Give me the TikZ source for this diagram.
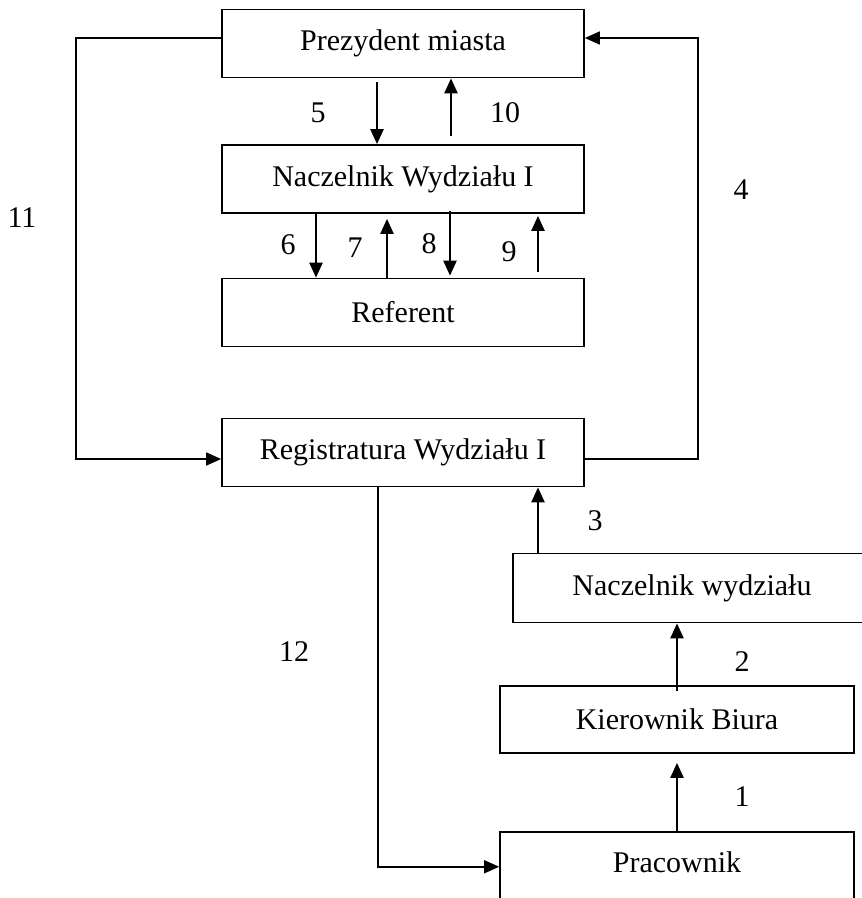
\documentclass[tikz,border=0pt]{standalone}
\usepackage{fontspec}
\setmainfont{Liberation Serif}
\usetikzlibrary{arrows.meta}
\begin{document}
\begin{tikzpicture}[x=1pt,y=-1pt,
  box/.style={draw,line width=1.7pt,rectangle,inner sep=0pt,font=\fontsize{30}{34}\selectfont},
  lab/.style={inner sep=0pt,font=\fontsize{30}{34}\selectfont},
  arr/.style={line width=2.3pt,-{Triangle[length=15pt,width=13pt]}},
  carr/.style={line width=1.7pt,-{Triangle[length=15pt,width=13pt]}}]
\useasboundingbox (0,0) rectangle (862,898);
\fill[white] (0,0) rectangle (862,898);
% boxes
\node[box,minimum width=362pt,minimum height=68pt] (pres) at (403,43.5) {Prezydent miasta};
\node[box,minimum width=362pt,minimum height=68pt] (nac) at (403,179) {Naczelnik Wydziału I};
\node[box,minimum width=362pt,minimum height=68pt] (ref) at (403,312.5) {Referent};
\node[box,minimum width=362pt,minimum height=68pt] (reg) at (403,452.5) {Registratura Wydziału I};
\node[box,minimum width=358pt,minimum height=69pt] (nw) at (692,588) {Naczelnik wydziału};
\node[box,minimum width=354pt,minimum height=67pt] (kb) at (677,719.5) {Kierownik Biura};
\node[box,minimum width=354pt,minimum height=80pt] (prac) at (677,872) {};
\node[lab] (pract) at (677,862) {Pracownik};
% labels
\node[lab] (l5) at (318,113) {5};
\node[lab] (l10) at (505,113) {10};
\node[lab] (l6) at (288,245) {6};
\node[lab] (l7) at (355,248) {7};
\node[lab] (l8) at (429,244) {8};
\node[lab] (l9) at (509,252) {9};
\node[lab] (l11) at (22,218) {11};
\node[lab] (l4) at (741,190) {4};
\node[lab] (l3) at (595,521) {3};
\node[lab] (l12) at (294,652) {12};
\node[lab] (l2) at (742,662) {2};
\node[lab] (l1) at (742,797) {1};
% arrows president <-> naczelnik
\draw[arr] ([xshift=-26pt,yshift=-4pt]pres.south) -- ([xshift=-26pt]nac.north);
\draw[arr] ([xshift=48pt,yshift=8pt]nac.north) -- ([xshift=48pt]pres.south);
% naczelnik <-> referent
\draw[arr] ([xshift=-87pt]nac.south) -- ([xshift=-87pt]ref.north);
\draw[arr] ([xshift=-16pt]ref.north) -- ([xshift=-16pt,yshift=-5pt]nac.south);
\draw[arr] ([xshift=47pt,yshift=3pt]nac.south) -- ([xshift=47pt,yshift=2pt]ref.north);
\draw[arr] ([xshift=135pt,yshift=6pt]ref.north) -- ([xshift=135pt,yshift=-2pt]nac.south);
% 11
\draw[carr] ([yshift=5.5pt]pres.west) -- ++(-145,0) |- ([yshift=-6.5pt]reg.west);
% 4
\draw[carr] ([yshift=-6.5pt]reg.east) -- ++(113,0) |- ([yshift=5.5pt]pres.east);
% 12
\draw[carr] ([xshift=-25pt]reg.south) |- ([yshift=6pt]prac.west |- pract.south);
% 3
\draw[arr] ([xshift=-154pt]nw.north) -- ([xshift=-154pt]nw.north |- reg.south);
% 2
\draw[arr] ([yshift=-6pt]kb.north) -- (kb.north |- nw.south);
% 1
\draw[arr] (prac.north -| kb.north) -- ([yshift=-9pt]kb.south);
\end{tikzpicture}
\end{document}
